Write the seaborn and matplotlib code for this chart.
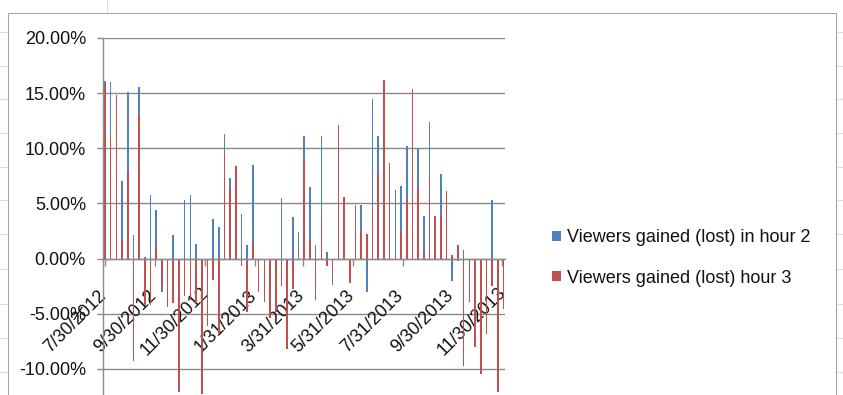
import numpy as np
import pandas as pd
import matplotlib
matplotlib.use("Agg")
import matplotlib.pyplot as plt
import matplotlib.dates as mdates
import matplotlib.transforms as mtransforms
from matplotlib.patches import Rectangle
from matplotlib.lines import Line2D
import seaborn as sns

# ---------------- data ----------------
start_date = "2012-07-30"   # first weekly observation (Mondays)
hour2 = [16.1, 16.0, 12.0, 7.0, 15.1, 2.1, 15.6, 0.15, 5.8, 4.4,
         -3.0, -2.0, 2.1, -2.0, 5.3, 5.8, 1.3, -3.0, -2.0, 3.6,
         2.9, 11.3, 7.3, 5.0, 4.0, 1.2, 8.5, -1.5, -2.2, -2.0,
         -1.5, 5.5, -3.0, 3.8, 2.4, 11.1, 6.5, 1.2, 11.1, 0.6,
         -2.4, 5.0, 3.0, -1.0, 2.0, 4.9, -3.0, 14.5, 11.1, 8.0,
         4.0, 6.2, 6.6, 10.2, 8.0, 10.0, 3.9, 12.4, 2.0, 7.7,
         3.0, -2.0, -0.2, 0.8, -2.0, -3.0, -4.0, -3.0, 5.3, -6.0,
         -2.0]
hour3 = [15.8, 11.1, 14.8, 1.7, 7.9, -9.3, 13.0, -4.2, -4.2, 1.1,
         -2.5, -4.4, -4.0, -12.1, -3.4, -3.8, -4.0, -12.3, -6.1, -1.9,
         -6.8, 9.5, 6.4, 8.4, -0.7, -4.8, 1.4, -3.0, -3.9, -5.4,
         -4.8, -2.5, -8.2, -2.8, 0.8, 9.1, 1.6, -3.8, 4.0, -0.7,
         -1.4, 12.1, 5.6, -2.2, 4.9, 2.5, 2.2, 4.5, 7.8, 16.2,
         8.7, 0.3, 2.5, 5.2, 15.4, 6.3, 0.5, 7.7, 3.9, 3.9,
         6.1, 0.3, 1.2, -9.7, -3.9, -8.0, -10.5, -6.8, -2.5, -12.1,
         -4.6]
series_names = ["Viewers gained (lost) in hour 2", "Viewers gained (lost) hour 3"]
series_colors = ["#4F81BD", "#C0504D"]
tick_labels = ["7/30/2012", "9/30/2012", "11/30/2012", "1/31/2013", "3/31/2013",
               "5/31/2013", "7/31/2013", "9/30/2013", "11/30/2013"]
y_min = -15
y_ticks = [-10, -5, 0, 5, 10, 15, 20]

# ---------------- frame ----------------
dates = pd.date_range(start_date, periods=len(hour2), freq="7D")
xnum = mdates.date2num(dates.to_pydatetime())
n = len(hour2)
df = pd.DataFrame({
    "x": np.concatenate([xnum, xnum]),
    "value": list(hour2) + list(hour3),
    "series": [series_names[0]] * n + [series_names[1]] * n,
})
tick_pos = mdates.date2num(pd.to_datetime(tick_labels, format="%m/%d/%Y").to_pydatetime())

sns.set_theme(style="white")
family, fs = "Liberation Sans", 13
plt.rcParams["font.family"] = [family, "DejaVu Sans"]
text_color = "#111111"
grid_color = "#8a8a8a"

W, H = 843, 395
fig = plt.figure(figsize=(W / 100, H / 100), dpi=100)
fig.patch.set_facecolor("white")
ax = fig.add_axes([103.3 / W, (H - 424) / H, 401.2 / W, 386 / H])
ax.set_facecolor("white")

sns.barplot(data=df, x="x", y="value", hue="series", hue_order=series_names,
            palette=series_colors, dodge=False, native_scale=True, width=0.28,
            saturation=1, linewidth=0, errorbar=None, ax=ax)

handles, labels = ax.get_legend_handles_labels()
if ax.get_legend() is not None:
    ax.get_legend().remove()

ax.set_xlim(xnum[0] - 2.0, xnum[-1] + 1.2)
ax.set_ylim(y_min, y_ticks[-1])
ax.set_yticks(y_ticks)
ax.set_yticklabels([f"{v:.2f}%" for v in y_ticks])
for v in y_ticks:
    ax.axhline(v, color=grid_color, lw=1.0, zorder=0.5)
ax.grid(False)

for s in ["top", "right"]:
    ax.spines[s].set_visible(False)
ax.spines["left"].set_color(grid_color)
ax.spines["left"].set_linewidth(1.0)
ax.spines["bottom"].set_position(("data", 0))
ax.spines["bottom"].set_color(grid_color)
ax.spines["bottom"].set_linewidth(1.0)

ax.set_xticks(tick_pos)
ax.set_xticklabels(tick_labels, rotation=45, ha="center", va="center",
                   rotation_mode="anchor")
ax.tick_params(axis="x", direction="out", length=5, width=1, color=grid_color,
               pad=0, labelsize=fs, labelcolor=text_color, bottom=True)
ax.tick_params(axis="y", direction="out", length=4.5, width=1, color=grid_color,
               pad=8, labelsize=fs, labelcolor=text_color, left=True)
# place the rotated label centres down-left of their ticks, as in the reference
offset = mtransforms.ScaledTranslation(-30 / 100, -56 / 100, fig.dpi_scale_trans)
for lab in ax.get_xticklabels():
    lab.set_transform(lab.get_transform() + offset)
ax.set_xlabel("")
ax.set_ylabel("")

fig.legend(handles, labels, loc="center left",
           bbox_to_anchor=(552 / W, 1 - 258 / H), frameon=False,
           handlelength=0.5, handleheight=0.5, handletextpad=0.35,
           labelspacing=1.3, borderpad=0, borderaxespad=0, fontsize=fs,
           labelcolor=text_color)

# chart area border
fig.add_artist(Rectangle((8 / W, -0.1), (836 - 8) / W, (H - 13) / H + 0.1,
                         transform=fig.transFigure, fill=False,
                         edgecolor="#a6a6a6", lw=0.8))
# faint worksheet cell lines showing around the chart
sheet_rows = [32, 66, 99, 133, 167, 200, 234, 269, 304, 338, 372]
for yy in sheet_rows:
    for x0, x1 in [(0, 7), (837, W)]:
        fig.add_artist(Line2D([x0 / W, x1 / W], [1 - yy / H, 1 - yy / H],
                              transform=fig.transFigure, color="#dcdcdc", lw=0.8))
fig.add_artist(Line2D([107 / W, 107 / W], [1, 1 - 12 / H],
                      transform=fig.transFigure, color="#dcdcdc", lw=0.8))

fig.savefig("out.png", dpi=100, facecolor="white")
